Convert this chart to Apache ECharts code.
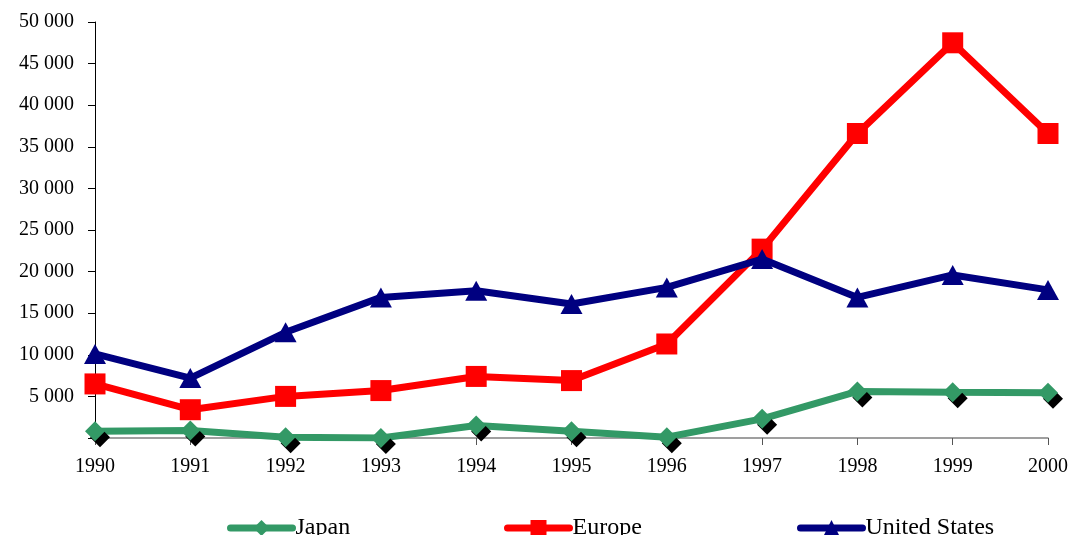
<!DOCTYPE html>
<html>
<head>
<meta charset="utf-8">
<script src="https://cdn.jsdelivr.net/npm/echarts@6/dist/echarts.min.js"></script>
<style>
  html, body { margin: 0; padding: 0; background: #fff; }
  #chart { width: 1071px; height: 535px; }
</style>
</head>
<body>
<div id="chart"></div>
<script>
// Years on the category axis
const years = ['1990', '1991', '1992', '1993', '1994', '1995', '1996', '1997', '1998', '1999', '2000'];

// Values per region
const japan = [800, 900, 100, 0, 1500, 800, 100, 2300, 5600, 5500, 5450];
const europe = [6500, 3400, 5000, 5700, 7400, 6900, 11300, 22700, 36600, 47500, 36600];
const unitedStates = [10100, 7200, 12700, 16900, 17700, 16100, 18100, 21500, 16900, 19600, 17800];

const serif = '"Liberation Serif", "DejaVu Serif", serif';

const chart = echarts.init(document.getElementById('chart'));

function legendAt(name, left) {
  return {
    data: [name],
    left: left,
    top: 511,
    itemWidth: 62,
    itemHeight: 20,
    itemGap: 0,
    lineStyle: { width: 7, cap: 'round' },
    textStyle: { fontFamily: serif, fontSize: 24, color: '#000', padding: [6, 0, 0, -2] }
  };
}

chart.setOption({
  animation: false,
  backgroundColor: '#fff',
  grid: { left: 95, right: 22, top: 22, bottom: 97, containLabel: false },
  legend: [
    legendAt('Japan', 222),
    legendAt('Europe', 499),
    legendAt('United States', 792)
  ],
  xAxis: {
    type: 'category',
    data: years,
    boundaryGap: false,
    axisLine: { lineStyle: { color: '#808080', width: 1.5 } },
    axisTick: { alignWithLabel: true, length: 7, lineStyle: { color: '#555' } },
    axisLabel: { fontFamily: serif, fontSize: 20, color: '#000', margin: 19 },
    splitLine: { show: false }
  },
  yAxis: {
    type: 'value',
    min: 0,
    max: 50000,
    interval: 5000,
    axisLine: { show: true, lineStyle: { color: '#000', width: 1 } },
    axisTick: { show: true, length: 7, lineStyle: { color: '#000' } },
    axisLabel: {
      fontFamily: serif,
      fontSize: 20,
      color: '#000',
      margin: 21,
      formatter: function (v) {
        if (v === 0) return '';
        return String(v).replace(/\B(?=(\d{3})+(?!\d))/g, ' ');
      }
    },
    splitLine: { show: false }
  },
  series: [
    {
      name: 'Japan',
      type: 'line',
      data: japan,
      symbol: 'diamond',
      symbolSize: 20,
      z: 3,
      lineStyle: { color: '#339966', width: 7 },
      itemStyle: {
        color: '#339966',
        shadowColor: '#000',
        shadowBlur: 0,
        shadowOffsetX: 5,
        shadowOffsetY: 6
      }
    },
    {
      name: 'Europe',
      type: 'line',
      data: europe,
      symbol: 'rect',
      symbolSize: 21,
      z: 4,
      lineStyle: { color: '#ff0000', width: 7 },
      itemStyle: { color: '#ff0000' }
    },
    {
      name: 'United States',
      type: 'line',
      data: unitedStates,
      symbol: 'triangle',
      symbolSize: [22, 20],
      z: 5,
      lineStyle: { color: '#000080', width: 7 },
      itemStyle: { color: '#000080' }
    }
  ]
});
</script>
</body>
</html>
